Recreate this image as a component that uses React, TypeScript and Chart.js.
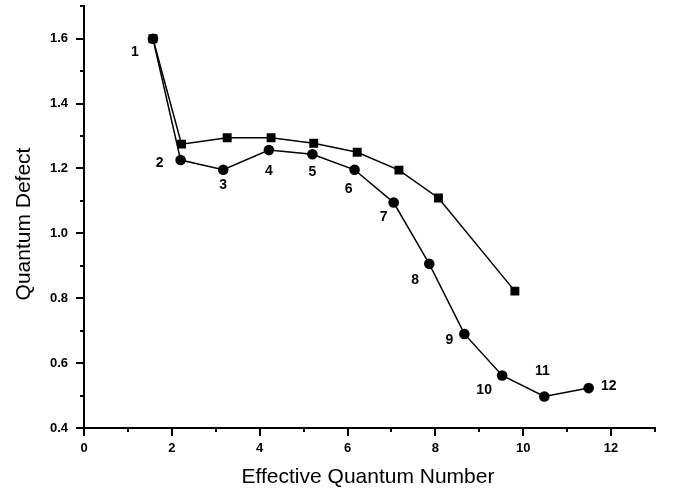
import React, { useEffect, useRef } from "react";
import { Chart, registerables } from "chart.js";

Chart.register(...registerables);

const circleX = [1.57, 2.2, 3.17, 4.21, 5.2, 6.16, 7.05, 7.86, 8.66, 9.52, 10.48, 11.49];
const circleY = [1.6, 1.226, 1.196, 1.257, 1.244, 1.196, 1.095, 0.906, 0.69, 0.562, 0.497, 0.523];
const squareX = [1.57, 2.22, 3.26, 4.26, 5.23, 6.22, 7.17, 8.07, 9.81];
const squareY = [1.6, 1.275, 1.295, 1.295, 1.278, 1.25, 1.195, 1.109, 0.822];
const pointLabels = ["1", "2", "3", "4", "5", "6", "7", "8", "9", "10", "11", "12"];
const labelDx = [-18, -21, 0, 0, 0, -6, -10, -14, -15, -18, -2, 20];
const labelDy = [13, 3, 15, 21, 18, 19, 15, 16, 6, 15, -25, -2];
const xTitle = "Effective Quantum Number";
const yTitle = "Quantum Defect";
const X_MIN = 0, X_MAX = 13, Y_MIN = 0.4, Y_MAX = 1.7;

const FONT = '"Liberation Sans", Arial, sans-serif';

const decorPlugin = {
  id: "decor",
  afterDraw(chart: any) {
    const ctx = chart.ctx;
    const xs = chart.scales.x;
    const ys = chart.scales.y;
    const area = chart.chartArea;
    ctx.save();
    ctx.strokeStyle = "#000";
    ctx.lineWidth = 2;
    for (let v = X_MIN; v <= X_MAX + 1e-9; v += 1) {
      const px = Math.round(xs.getPixelForValue(v));
      const len = v % 2 === 0 ? 8 : 4;
      ctx.beginPath();
      ctx.moveTo(px, area.bottom);
      ctx.lineTo(px, area.bottom + len);
      ctx.stroke();
    }
    for (let i = 0; i <= 13; i++) {
      const v = Y_MIN + i * 0.1;
      const py = Math.round(ys.getPixelForValue(v));
      const len = i % 2 === 0 ? 8 : 4;
      ctx.beginPath();
      ctx.moveTo(area.left, py);
      ctx.lineTo(area.left - len, py);
      ctx.stroke();
    }
    const meta = chart.getDatasetMeta(0);
    ctx.fillStyle = "#000";
    ctx.font = `bold 14px ${FONT}`;
    ctx.textAlign = "center";
    ctx.textBaseline = "middle";
    meta.data.forEach((el: any, i: number) => {
      ctx.fillText(pointLabels[i], el.x + labelDx[i], el.y + labelDy[i]);
    });
    ctx.font = `21px ${FONT}`;
    ctx.fillText(xTitle, 368, 477);
    ctx.save();
    ctx.translate(24, 224);
    ctx.rotate(-Math.PI / 2);
    ctx.fillText(yTitle, 0, 0);
    ctx.restore();
    ctx.restore();
  },
};

export default function App() {
  const ref = useRef<HTMLCanvasElement>(null);
  useEffect(() => {
    const chart = new Chart(ref.current!, {
      type: "scatter",
      data: {
        datasets: [
          {
            data: circleX.map((x, i) => ({ x, y: circleY[i] })),
            showLine: true,
            borderColor: "#000",
            backgroundColor: "#000",
            borderWidth: 1.5,
            pointStyle: "circle",
            pointRadius: 5.3,
            pointBorderWidth: 0,
          },
          {
            data: squareX.map((x, i) => ({ x, y: squareY[i] })),
            showLine: true,
            borderColor: "#000",
            backgroundColor: "#000",
            borderWidth: 1.5,
            pointStyle: "rect",
            pointRadius: 6.3,
            pointBorderWidth: 0,
          },
        ],
      },
      options: {
        animation: false,
        responsive: false,
        maintainAspectRatio: false,
        layout: { padding: { left: 0, top: 3, right: 18, bottom: 0 } },
        plugins: { legend: { display: false }, tooltip: { enabled: false } },
        scales: {
          x: {
            type: "linear",
            min: X_MIN,
            max: X_MAX,
            afterFit: (s: any) => { s.height = 67; s.paddingLeft = 0; s.paddingRight = 0; },
            grid: { display: false, drawTicks: false },
            border: { display: true, color: "#000", width: 2 },
            ticks: {
              stepSize: 2,
              padding: 13,
              color: "#000",
              font: { family: FONT, size: 13, weight: "bold" },
              callback: (v: any) => (Number(v) % 2 === 0 && v <= 12 ? String(v) : ""),
            },
          },
          y: {
            type: "linear",
            min: Y_MIN,
            max: Y_MAX,
            afterFit: (s: any) => { s.width = 84; s.paddingTop = 0; s.paddingBottom = 0; },
            grid: { display: false, drawTicks: false },
            border: { display: true, color: "#000", width: 2 },
            ticks: {
              stepSize: 0.2,
              padding: 16,
              color: "#000",
              font: { family: FONT, size: 13, weight: "bold" },
              callback: (v: any) => {
                const n = Math.round(Number(v) * 10) / 10;
                return n <= 1.6 + 1e-9 ? n.toFixed(1) : "";
              },
            },
          },
        },
      } as any,
      plugins: [decorPlugin],
    });
    return () => chart.destroy();
  }, []);
  return (
    <div style={{ position: "fixed", left: 0, top: 0, width: 673, height: 495, background: "#fff" }}>
      <canvas ref={ref} width={673} height={495} />
    </div>
  );
}
